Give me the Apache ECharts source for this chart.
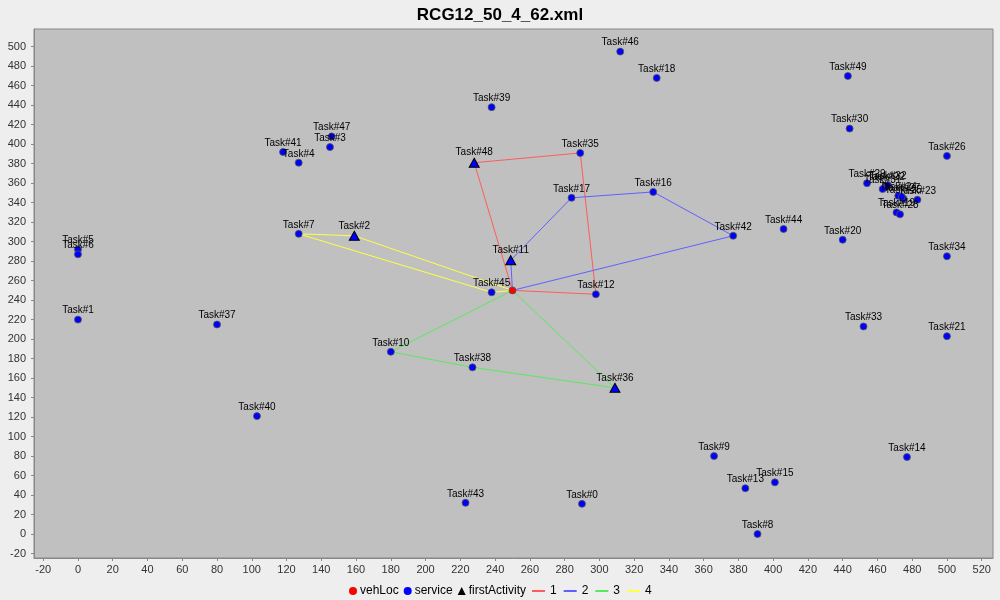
<!DOCTYPE html>
<html>
<head>
<meta charset="utf-8">
<script src="https://cdn.jsdelivr.net/npm/echarts@6/dist/echarts.min.js"></script>
<style>
html, body { margin: 0; padding: 0; background: #eeeeee; }
#chart { width: 1000px; height: 600px; }
</style>
</head>
<body>
<div id="chart"></div>
<script>
// ---- data ----
const titleText = 'RCG12_50_4_62.xml';
const vehLoc = [250, 250];
const taskIds = [0,1,2,3,4,5,6,7,8,9,10,11,12,13,14,15,16,17,18,19,20,21,22,23,24,25,26,27,28,29,30,31,32,33,34,35,36,37,38,39,40,41,42,43,44,45,46,47,48,49];
const taskX = [290,0,159,145,127,0,0,127,391,366,180,249,298,384,477,401,331,284,333,471,440,500,465,483,472,475,500,474,473,454,444,463,466,452,500,289,309,80,227,238,103,118,377,223,406,238,312,146,228,443];
const taskY = [31,220,306,397,381,292,287,308,0,80,187,281,246,47,79,53,351,345,468,330,302,203,357,343,347,344,388,346,328,360,416,354,358,213,285,391,150,215,171,438,121,392,306,32,313,248,495,408,381,470];
const firstActivities = [48, 11, 36, 2];
const routeNames = ['1', '2', '3', '4'];
const routes = [
  [48, 35, 12],
  [11, 17, 16, 42],
  [36, 38, 10],
  [2, 7, 45]
];
const routeColors = ['#ff5c5c', '#6060ff', '#5ce85c', '#ffff48'];
const xMin = -25.3, xMax = 526.5, yMin = -24.6, yMax = 518.2;

// ---- build ----
const pt = id => [taskX[taskIds.indexOf(id)], taskY[taskIds.indexOf(id)], 'Task#' + id];
const serviceData = taskIds.filter(id => firstActivities.indexOf(id) < 0).map(pt);
const firstData = firstActivities.map(pt);

const labelCfg = {
  show: true, position: 'top', distance: 0,
  formatter: p => p.value[2],
  color: '#000', fontSize: 10, fontFamily: 'Liberation Sans'
};

const lineSeries = routes.map((r, i) => ({
  name: routeNames[i], type: 'line', symbol: 'none', showSymbol: false,
  silent: true, animation: false, z: 1,
  data: [vehLoc].concat(r.map(id => pt(id).slice(0, 2))).concat([vehLoc]),
  lineStyle: { color: routeColors[i], width: 1 },
  itemStyle: { color: routeColors[i] }
}));

const chart = echarts.init(document.getElementById('chart'), null, { renderer: 'canvas' });
chart.setOption({
  backgroundColor: '#eeeeee',
  animation: false,
  title: {
    text: titleText, left: 'center', top: 2,
    textStyle: { fontFamily: 'Liberation Sans', fontWeight: 'bold', fontSize: 17, color: '#000' }
  },
  grid: {
    left: 34, right: 7, top: 29, bottom: 42,
    show: true, backgroundColor: '#c0c0c0', borderColor: '#888888', borderWidth: 1
  },
  legend: [
    {
      left: 344, top: 580, itemWidth: 8, itemHeight: 8, itemGap: 5,
      textStyle: { fontFamily: 'Liberation Sans', fontSize: 12, color: '#000', padding: [0, 0, 0, -2] },
      data: [
        { name: 'vehLoc', icon: 'circle', itemStyle: { color: '#ff0000', borderWidth: 0 } },
        { name: 'service', icon: 'circle', itemStyle: { color: '#0000ff', borderWidth: 0 } },
        { name: 'firstActivity', icon: 'triangle', itemStyle: { color: '#000', borderWidth: 0 } }
      ]
    },
    {
      left: 527, top: 580, itemWidth: 13, itemHeight: 2, itemGap: 7,
      textStyle: { fontFamily: 'Liberation Sans', fontSize: 12, color: '#000' },
      data: routeNames.map((n, i) => ({ name: n, icon: 'rect', itemStyle: { color: routeColors[i] } }))
    }
  ],
  xAxis: {
    type: 'value', min: xMin, max: xMax, minInterval: 20, maxInterval: 20, splitNumber: 27,
    splitLine: { show: false },
    axisLine: { show: true, onZero: false, lineStyle: { color: '#888888' } },
    axisTick: { show: true, length: 3, lineStyle: { color: '#888888' } },
    axisLabel: { showMinLabel: false, showMaxLabel: false, margin: 6, color: '#333', fontSize: 11, fontFamily: 'Liberation Sans' }
  },
  yAxis: {
    type: 'value', min: yMin, max: yMax, minInterval: 20, maxInterval: 20, splitNumber: 27,
    splitLine: { show: false },
    axisLine: { show: true, onZero: false, lineStyle: { color: '#888888' } },
    axisTick: { show: true, length: 3, lineStyle: { color: '#888888' } },
    axisLabel: { showMinLabel: false, showMaxLabel: false, margin: 8, color: '#333', fontSize: 11, fontFamily: 'Liberation Sans' }
  },
  series: lineSeries.concat([
    {
      name: 'service', type: 'scatter', z: 3, symbol: 'circle', symbolSize: 7,
      data: serviceData,
      itemStyle: { color: '#0000ff', borderColor: '#555', borderWidth: 0.8, opacity: 1 },
      label: labelCfg
    },
    {
      name: 'firstActivity', type: 'scatter', z: 4, symbol: 'triangle', symbolSize: [10, 9],
      data: firstData,
      itemStyle: { color: '#0000ff', borderColor: '#000', borderWidth: 1, opacity: 1 },
      label: labelCfg
    },
    {
      name: 'vehLoc', type: 'scatter', z: 5, symbol: 'circle', symbolSize: 7,
      data: [vehLoc],
      itemStyle: { color: '#ff0000', borderColor: '#555', borderWidth: 0.8, opacity: 1 }
    }
  ])
});
</script>
</body>
</html>
